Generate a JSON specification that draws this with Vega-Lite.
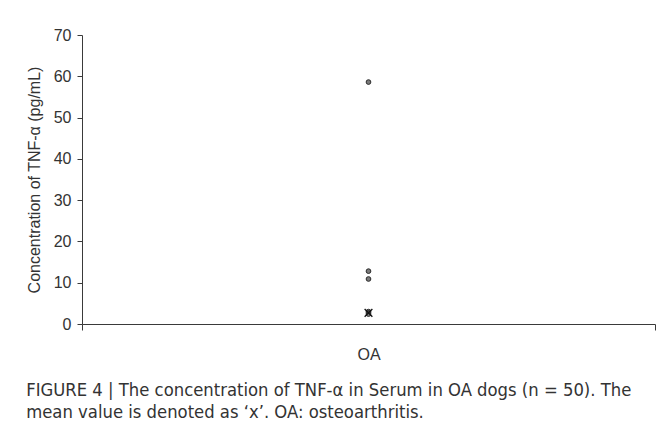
{
  "$schema": "https://vega.github.io/schema/vega-lite/v6.json",
  "autosize": {"type": "none"},
  "padding": {"left": 82, "top": 35, "right": 14, "bottom": 112},
  "width": 573,
  "height": 289,
  "background": "white",
  "config": {
    "view": {"stroke": null},
    "font": "Liberation Sans",
    "axis": {
      "grid": false,
      "domainColor": "#3a3a3a",
      "tickColor": "#3a3a3a",
      "labelColor": "#333333",
      "titleColor": "#333333",
      "labelFont": "Liberation Sans",
      "titleFont": "Liberation Sans",
      "labelFontSize": 16,
      "titleFontSize": 16,
      "titleFontWeight": "normal",
      "domainWidth": 1,
      "tickWidth": 1
    }
  },
  "title": {
    "text": ["FIGURE 4 | The concentration of TNF-α in Serum in OA dogs (n = 50). The", "mean value is denoted as ‘x’. OA: osteoarthritis."],
    "orient": "bottom",
    "anchor": "start",
    "frame": "bounds",
    "offset": 20,
    "font": "DejaVu Sans Condensed, Liberation Sans",
    "fontSize": 18.3,
    "fontWeight": "normal",
    "color": "#333333",
    "lineHeight": 22,
    "baseline": "top"
  },
  "data": {
    "values": [
      {"group": "OA", "value": 58.6, "kind": "point"},
      {"group": "OA", "value": 12.8, "kind": "point"},
      {"group": "OA", "value": 10.9, "kind": "point"},
      {"group": "OA", "value": 3.0, "kind": "point"},
      {"group": "OA", "value": 2.7, "kind": "point"},
      {"group": "OA", "value": 2.4, "kind": "point"},
      {"group": "OA", "value": 2.7, "kind": "mean"}
    ]
  },
  "encoding": {
    "x": {"field": "group", "type": "nominal", "scale": {"paddingInner": 0, "paddingOuter": 0},
      "axis": {"title": null, "labelAngle": 0, "ticks": true, "tickBand": "extent", "tickSize": 6, "labelPadding": 16, "domain": true}},
    "y": {"field": "value", "type": "quantitative", "scale": {"domain": [0, 70], "nice": false},
      "axis": {"title": "Concentration of TNF-α (pg/mL)", "values": [0, 10, 20, 30, 40, 50, 60, 70], "tickSize": 5, "labelPadding": 6, "titlePadding": 11}}
  },
  "layer": [
    {
      "transform": [{"filter": "datum.kind === 'point'"}],
      "mark": {"type": "point", "filled": true, "fill": "#7a7a7a", "stroke": "#2a2a2a", "strokeWidth": 1, "size": 22, "opacity": 1}
    },
    {
      "transform": [{"filter": "datum.kind === 'mean'"}],
      "mark": {"type": "point", "shape": "M-1,-1L1,1M-1,1L1,-1", "filled": false, "stroke": "#111111", "strokeWidth": 1.3, "size": 60, "opacity": 1}
    }
  ]
}
